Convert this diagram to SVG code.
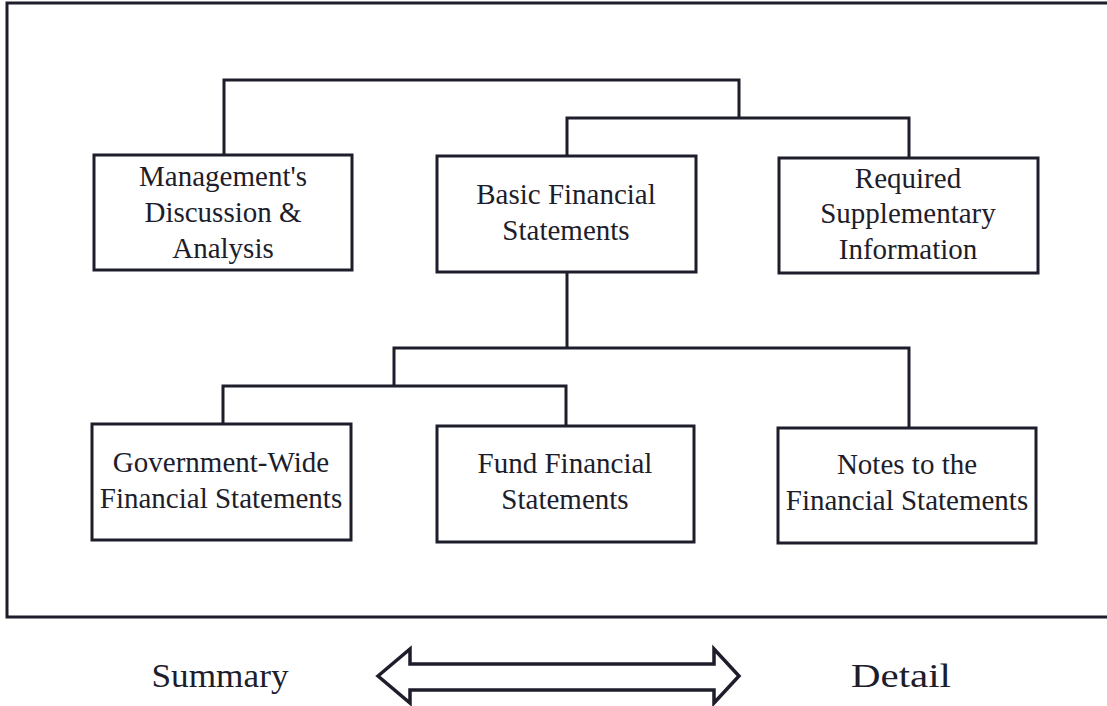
<svg xmlns="http://www.w3.org/2000/svg" width="1107" height="706" viewBox="0 0 1107 706">
<style>
.box{fill:#fff;stroke:#1d1d2b;stroke-width:3}
.ln{fill:none;stroke:#1d1d2b;stroke-width:3}
.t{font-family:"Liberation Serif","Times New Roman",serif;font-size:29px;fill:#1d1d2b;text-anchor:middle}
.b{font-family:"Liberation Serif","Times New Roman",serif;font-size:33px;fill:#1d1d2b;text-anchor:middle}
</style>
<rect width="1107" height="706" fill="#fff"/>
<path class="ln" d="M1112,3 H7 V617 H1112"/>
<g id="connectors">
<path class="ln" d="M224,155 V80 H739 V118"/>
<path class="ln" d="M567,156 V118 H909 V158"/>
<path class="ln" d="M567,272 V348"/>
<path class="ln" d="M394,386 V348 H909 V428"/>
<path class="ln" d="M223,424 V386 H566 V426"/>
</g>
<g id="mda">
<rect class="box" x="94" y="155" width="258" height="115"/>
<text class="t" x="223" y="186">Management's</text>
<text class="t" x="223" y="222">Discussion &amp;</text>
<text class="t" x="223" y="258">Analysis</text>
</g>
<g id="bfs">
<rect class="box" x="437" y="156" width="259" height="116"/>
<text class="t" x="566" y="204">Basic Financial</text>
<text class="t" x="566" y="240">Statements</text>
</g>
<g id="rsi">
<rect class="box" x="779" y="158" width="259" height="115"/>
<text class="t" x="908" y="188">Required</text>
<text class="t" x="908" y="223">Supplementary</text>
<text class="t" x="908" y="259">Information</text>
</g>
<g id="gwfs">
<rect class="box" x="92" y="424" width="259" height="116"/>
<text class="t" x="221" y="472">Government-Wide</text>
<text class="t" x="221" y="508">Financial Statements</text>
</g>
<g id="ffs">
<rect class="box" x="437" y="426" width="257" height="116"/>
<text class="t" x="565" y="473">Fund Financial</text>
<text class="t" x="565" y="509">Statements</text>
</g>
<g id="notes">
<rect class="box" x="778" y="428" width="258" height="115"/>
<text class="t" x="907" y="474">Notes to the</text>
<text class="t" x="907" y="510">Financial Statements</text>
</g>
<g id="scale">
<text class="b" x="220" y="687" textLength="137" lengthAdjust="spacingAndGlyphs">Summary</text>
<text class="b" x="901" y="687" textLength="100" lengthAdjust="spacingAndGlyphs">Detail</text>
<path fill="#fff" stroke="#1d1d2b" stroke-width="3.5" stroke-linejoin="miter" d="M378,676 L410,649 V664 H714 V649 L739,676 L714,703 V690 H410 V703 Z"/>
</g>
</svg>
